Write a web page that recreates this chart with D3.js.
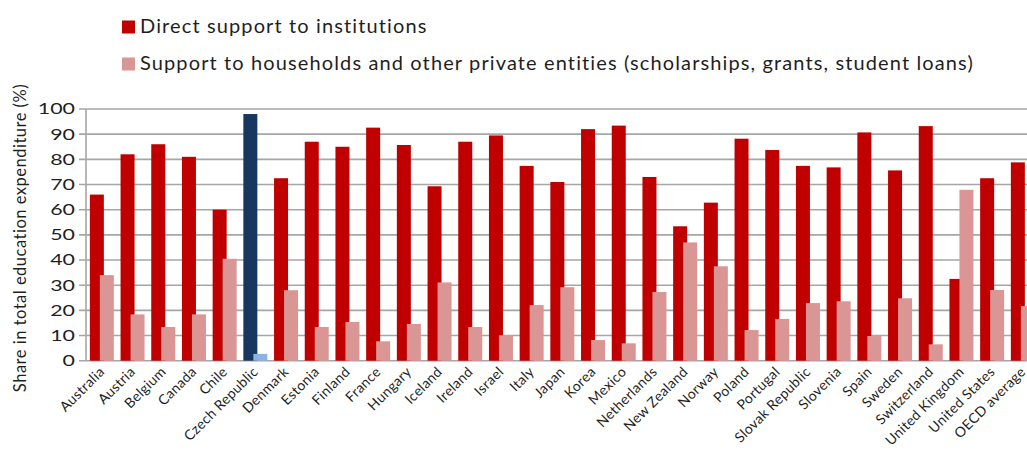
<!DOCTYPE html>
<html>
<head>
<meta charset="utf-8">
<script src="https://cdn.jsdelivr.net/npm/d3@7"></script>
<style>
  html, body { margin: 0; padding: 0; background: #fff; }
  svg { display: block; }
  text { font-family: Lato, "Open Sans", sans-serif; fill: #1f1f1f; }
</style>
</head>
<body>
<div id="chart"></div>
<script>
const countries = ["Australia","Austria","Belgium","Canada","Chile","Czech Republic","Denmark","Estonia","Finland","France","Hungary","Iceland","Ireland","Israel","Italy","Japan","Korea","Mexico","Netherlands","New Zealand","Norway","Poland","Portugal","Slovak Republic","Slovenia","Spain","Sweden","Switzerland","United Kingdom","United States","OECD average"];
const directSupport = [66,82,86,81,60,98,72.5,87,85,92.6,85.7,69.3,87,89.5,77.4,71,92,93.4,73,53.4,62.8,88.2,83.7,77.4,76.8,90.7,75.6,93.2,32.5,72.5,78.8];
const householdSupport = [34,18.4,13.4,18.4,40.5,2.7,28,13.4,15.4,7.7,14.6,31.1,13.4,10.1,22.1,29.2,8.2,6.9,27.3,47,37.5,12.2,16.6,22.9,23.6,9.8,24.8,6.5,67.9,28.1,21.7];
const highlighted = ["Czech Republic"];
const yTicks = [0,10,20,30,40,50,60,70,80,90,100];
const seriesNames = ["Direct support to institutions","Support to households and other private entities (scholarships, grants, student loans)"];
const yTitle = "Share in total education expenditure (%)";

const W = 1027, H = 450;
const left = 86, step = 30.7;
const colors = {direct: "#C00000", house: "#D99694", directHi: "#17375E", houseHi: "#8DB3E2"};

const svg = d3.select("#chart").append("svg").attr("width", W).attr("height", H);

const x = d3.scaleBand().domain(countries).range([left, left + step * countries.length]).padding(0);
const y = d3.scaleLinear().domain([0, 100]).range([360.7, 109]);

// gridlines
const grid = svg.append("g");
grid.selectAll("line").data(yTicks).join("line")
  .attr("x1", left - 7).attr("x2", W)
  .attr("y1", d => y(d)).attr("y2", d => y(d))
  .attr("stroke", "#a6a6a6").attr("stroke-width", 1.6);
svg.append("line").attr("x1", left).attr("x2", left).attr("y1", y(100)).attr("y2", y(0))
  .attr("stroke", "#a6a6a6").attr("stroke-width", 1.6);

// y axis labels
const yAxis = d3.axisLeft(y).tickValues(yTicks).tickSize(0).tickPadding(0);
const gy = svg.append("g").attr("transform", `translate(${left},0)`).call(yAxis);
gy.select(".domain").remove();
gy.selectAll(".tick line").remove();
gy.selectAll(".tick text")
  .attr("x", null)
  .attr("font-size", 15.5)
  .attr("fill", "#1f1f1f")
  .attr("transform", "translate(-11,0) scale(1.38,1)");

// bars
const barW = 14;
const g = svg.append("g");
g.selectAll("rect.d").data(countries).join("rect").attr("class", "d")
  .attr("x", d => x(d) + x.bandwidth() / 2 - 11.5)
  .attr("width", barW)
  .attr("y", (d, i) => y(directSupport[i]))
  .attr("height", (d, i) => y(0) - y(directSupport[i]))
  .attr("fill", d => highlighted.includes(d) ? colors.directHi : colors.direct);
g.selectAll("rect.h").data(countries).join("rect").attr("class", "h")
  .attr("x", d => x(d) + x.bandwidth() / 2 - 1.5)
  .attr("width", barW)
  .attr("y", (d, i) => y(householdSupport[i]))
  .attr("height", (d, i) => y(0) - y(householdSupport[i]))
  .attr("fill", d => highlighted.includes(d) ? colors.houseHi : colors.house);

// x labels
const xAxis = d3.axisBottom(x).tickSize(0).tickPadding(0);
const gx = svg.append("g").attr("transform", `translate(0,${y(0)})`).call(xAxis);
gx.select(".domain").remove();
gx.selectAll(".tick text")
  .attr("text-anchor", "end")
  .attr("font-size", 14)
  .attr("letter-spacing", 0.3)
  .attr("fill", "#1f1f1f")
  .attr("dy", null).attr("y", null)
  .attr("transform", "translate(4,12) rotate(-45)");

// y title
svg.append("text")
  .attr("transform", `translate(26,238) rotate(-90)`)
  .attr("text-anchor", "middle")
  .attr("font-size", 16.5)
  .attr("letter-spacing", 0.5)
  .text(yTitle);

// legend
const leg = svg.append("g");
const legColors = [colors.direct, colors.house];
const legY = [33, 70];
seriesNames.forEach((n, i) => {
  leg.append("rect").attr("x", 122).attr("y", legY[i] - 12.5).attr("width", 13).attr("height", 13).attr("fill", legColors[i]);
  leg.append("text").attr("x", 140).attr("y", legY[i]).attr("font-size", 20).attr("letter-spacing", 1.12).text(n);
});
</script>
</body>
</html>
